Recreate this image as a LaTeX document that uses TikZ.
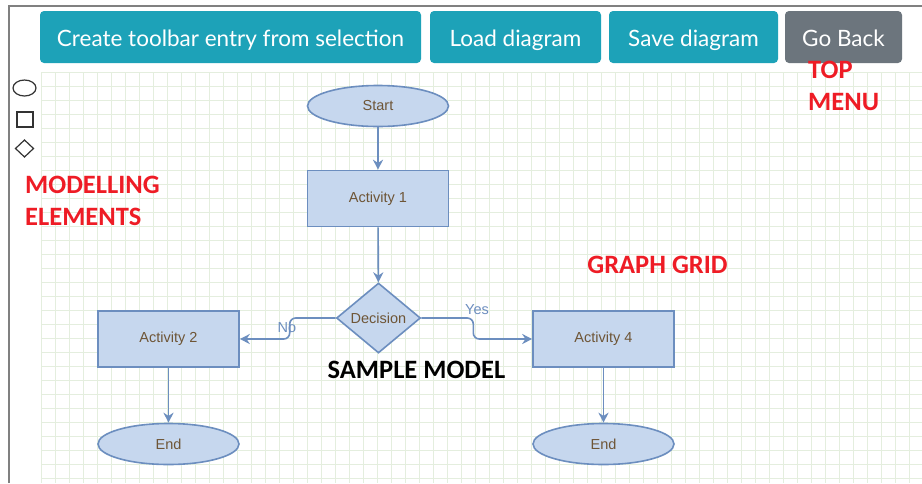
\documentclass[tikz,border=0pt]{standalone}
\usepackage{fontspec}
\setmainfont{Liberation Sans}
\newfontfamily\btnfont{Lato}
\newfontfamily\notefont{Carlito}
\usetikzlibrary{shapes.geometric,arrows.meta}
\definecolor{btnteal}{HTML}{1DA2B8}
\definecolor{btngray}{HTML}{6C757D}
\definecolor{gridgreen}{HTML}{E4EEDE}
\definecolor{flowfill}{HTML}{C6D7EE}
\definecolor{flowline}{HTML}{6C8EBF}
\definecolor{flowtext}{HTML}{6E5536}
\definecolor{notered}{HTML}{EE1C25}
\definecolor{framegray}{HTML}{808080}

\begin{document}
\begin{tikzpicture}[x=1pt,y=-1pt,
	button/.style={rectangle, rounded corners=4pt, fill=btnteal, text=white, minimum height=52pt, inner sep=0pt, text height=20pt, text depth=2pt, font=\btnfont\fontsize{22.5}{26}\selectfont},
	block/.style={rectangle, draw=flowline, fill=flowfill, line width=1.6pt, minimum width=141pt, minimum height=56pt, text=flowtext, font=\fontsize{14.5}{17}\selectfont},
	terminal/.style={ellipse, draw=flowline, fill=flowfill, line width=1.6pt, minimum width=141pt, minimum height=41pt, inner sep=0pt, text=flowtext, font=\fontsize{14.5}{17}\selectfont},
	decision/.style={diamond, draw=flowline, fill=flowfill, line width=1.6pt, minimum width=84pt, minimum height=70pt, aspect=1.2, inner sep=0pt, text=flowtext, font=\fontsize{14.5}{17}\selectfont},
	note/.style={text=notered, font=\notefont\bfseries\fontsize{26.5}{32}\selectfont, align=left, inner sep=0pt},
	elabel/.style={text=flowline, font=\fontsize{14.5}{17}\selectfont, inner sep=0pt},
	flow/.style={draw=flowline, line width=1.6pt, ->, rounded corners=6pt},
	icon/.style={draw=black!80, line width=1.2pt},
	>={Stealth[length=10pt, width=10pt]}]
	
	\useasboundingbox (0,0) rectangle (922,483);
	\fill[white] (0,0) rectangle (922,483);
	
	%Grid
	\foreach \gx in {41,55,...,920} \draw[gridgreen, line width=0.7pt] (\gx,72) -- (\gx,483);
	\foreach \gy in {72,86,...,482} \draw[gridgreen, line width=0.7pt] (41,\gy) -- (922,\gy);
	\draw[framegray, line width=1.5pt] (9,483) |- (922,6);
	
	%Top menu
	\node[button, minimum width=381pt]	(create)	at (230.5,37) {Create toolbar entry from selection};
	\node[button, minimum width=171pt]	(load)		at (515.5,37) {Load diagram};
	\node[button, minimum width=169pt]	(save)		at (693.5,37) {Save diagram};
	\node[button, minimum width=117pt, fill=btngray]	(back)	at (843.5,37) {Go Back};
	
	%Modelling elements
	\draw[icon] (24.5,88) ellipse [x radius=11.5, y radius=8];
	\draw[icon] (17,112) rectangle (33,127);
	\draw[icon] (24.5,140) -- (33.5,148.5) -- (24.5,157) -- (15.5,148.5) -- cycle;
	
	%Notes
	\node[note, anchor=north west]	(modnote)	at (25,176) {MODELLING\\ELEMENTS};
	\node[note, anchor=north west]	(topnote)	at (808,61) {TOP\\MENU};
	\node[note]	(gridnote)	at (657.5,265) {GRAPH GRID};
	\node[note, text=black]	(samplenote)	at (416.5,370) {SAMPLE MODEL};
	
	%Nodes
	\node[terminal]	(start)	at (378,106)	{Start};
	\node[block]	(act1)	at (378,198.5)	{Activity 1};
	\node[decision]	(dec)	at (378.5,318)	{Decision};
	\node[block]	(act2)	at (168.5,339)	{Activity 2};
	\node[block]	(act4)	at (603.5,339)	{Activity 4};
	\node[terminal]	(end2)	at (168.5,444)	{End};
	\node[terminal]	(end4)	at (603.5,444)	{End};
	
	%Lines
	\draw[flow] (start) -- (act1);
	\draw[flow] (act1) -- (dec);
	\draw[flow] (dec.west) -- ++(-46,0) |- (act2.east);
	\draw[flow] (dec.east) -- ++(52,0) |- (act4.west);
	\draw[flow] (act2) -- (end2);
	\draw[flow] (act4) -- (end4);
	\node[elabel]	(no)	at (287,328)	{No};
	\node[elabel]	(yes)	at (477,310)	{Yes};
\end{tikzpicture}
\end{document}
